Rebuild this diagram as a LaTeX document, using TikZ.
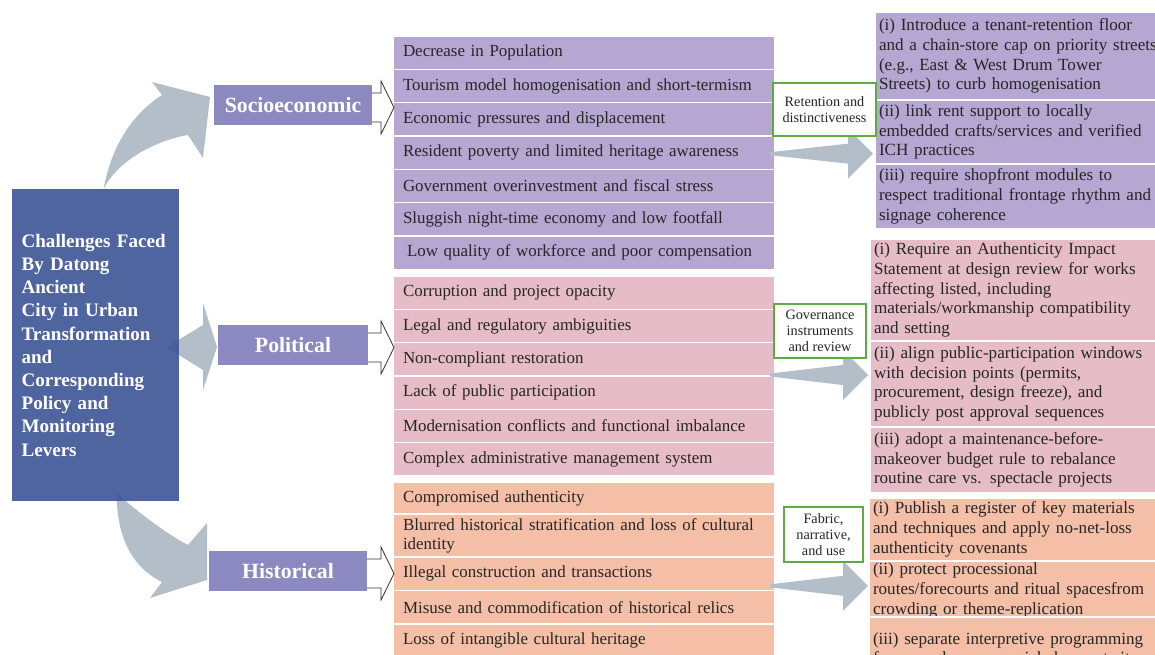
\documentclass[tikz,border=0pt]{standalone}
\usepackage{fontspec}
\setmainfont{Liberation Serif}
\usetikzlibrary{positioning}
\usetikzlibrary{calc}
\usetikzlibrary{backgrounds}

\definecolor{mainblue}{RGB}{60,84,150}
\definecolor{catblue}{RGB}{140,137,193}
\definecolor{sociofill}{RGB}{181,166,210}
\definecolor{politfill}{RGB}{230,188,201}
\definecolor{histfill}{RGB}{244,191,166}
\definecolor{flowgray}{RGB}{179,190,200}
\definecolor{labelgreen}{RGB}{92,172,64}

\newcommand\listfont{\fontsize{12.7}{14}\selectfont}
\newcommand\leverfont{\fontsize{12.8}{14.8}\selectfont}
\newcommand\tagfont{\fontsize{10.7}{12}\selectfont}

\newcommand\hollowarrow[2]{%
    \coordinate (ha) at ($(#1.east)+(0,2.5)$);
    \coordinate (hb) at (ha -| #2.west);
    \draw[hollow] ($(ha)+(0,-14.5)$) -- ($(hb)+(-12,-14.5)$) -- ($(hb)+(-12,-26.5)$)
        -- ($(hb)+(1,0)$) -- ($(hb)+(-12,26.5)$) -- ($(hb)+(-12,14.5)$) -- ($(ha)+(0,14.5)$);}
\newcommand\flowarrow[2]{%
    \fill[flowgray] ($(#1)+(0,-1.5)$) -- ($(#2)+(-25,-10)$) -- ($(#2)+(-25,-25)$) -- (#2)
        -- ($(#2)+(-25,25)$) -- ($(#2)+(-25,10)$) -- ($(#1)+(0,1.5)$) -- cycle;}

\tikzset{
    x=0.75pt, y=-0.75pt,
    node distance=0pt,
    challenge/.style={
        rectangle, outer sep=0pt,
        draw=white, line width=1.2pt,
        minimum width=286.5pt, minimum height=25pt,
        text width=271.5pt, inner xsep=7.5pt,
        align=left, font=\listfont, text=black!85
    },
    lever/.style={
        rectangle, outer sep=0pt,
        draw=white, line width=1.2pt,
        text width=220pt, inner xsep=3pt, inner ysep=1.5pt,
        align=left, font=\leverfont, text=black!85
    },
    category/.style={
        rectangle, outer sep=0pt,
        fill=catblue, minimum height=30pt,
        text=white, font=\fontsize{16.3}{18}\selectfont\bfseries
    },
    tag/.style={
        rectangle, outer sep=0pt, inner sep=1pt,
        draw=labelgreen, line width=1.5pt, fill=white,
        align=center, font=\tagfont, text=black!85
    },
    bigflow/.style={fill=flowgray},
    hollow/.style={draw=black!80, fill=white, line width=0.6pt}
}

\begin{document}
\begin{tikzpicture}
    \useasboundingbox (0,0) rectangle (1155,654);
    \clip (0,0) rectangle (1155,654);

    \node[rectangle, anchor=north west, fill=mainblue, fill opacity=0.9, text opacity=1,
        minimum width=123pt, minimum height=234pt, text width=111pt, inner xsep=7pt,
        align=left, text=white, font=\fontsize{14.3}{17.4}\selectfont\bfseries] (main) at (12,189)
        {Challenges Faced\\By Datong\\Ancient\\City in Urban\\Transformation\\and\\Corresponding\\Policy and\\Monitoring\\Levers};

    \node[category, minimum width=118.5pt] (socio) at (293,105) {Socioeconomic};
    \node[category, minimum width=112.5pt] (polit) at (293,345) {Political};
    \node[category, minimum width=118.5pt] (hist) at (288,571) {Historical};

    \node[challenge, fill=sociofill, anchor=north west] (s1) at (393,36) {Decrease in Population};
    \node[challenge, fill=sociofill, below=of s1] (s2) {Tourism model homogenisation and short-termism};
    \node[challenge, fill=sociofill, below=of s2] (s3) {Economic pressures and displacement};
    \node[challenge, fill=sociofill, below=of s3] (s4) {Resident poverty and limited heritage awareness};
    \node[challenge, fill=sociofill, below=of s4] (s5) {Government overinvestment and fiscal stress};
    \node[challenge, fill=sociofill, below=of s5] (s6) {Sluggish night-time economy and low footfall};
    \node[challenge, fill=sociofill, below=of s6] (s7) {\hspace*{3pt}Low quality of workforce and poor compensation};

    \node[challenge, fill=politfill, anchor=north west] (p1) at (393,276) {Corruption and project opacity};
    \node[challenge, fill=politfill, below=of p1] (p2) {Legal and regulatory ambiguities};
    \node[challenge, fill=politfill, below=of p2] (p3) {Non-compliant restoration};
    \node[challenge, fill=politfill, below=of p3] (p4) {Lack of public participation};
    \node[challenge, fill=politfill, below=of p4] (p5) {Modernisation conflicts and functional imbalance};
    \node[challenge, fill=politfill, below=of p5] (p6) {Complex administrative management system};

    \node[challenge, fill=histfill, anchor=north west, minimum height=24pt] (h1) at (393,482) {Compromised authenticity};
    \node[challenge, fill=histfill, below=of h1, minimum height=31.5pt] (h2) {Blurred historical stratification and loss of cultural\\identity};
    \node[challenge, fill=histfill, below=of h2] (h3) {Illegal construction and transactions};
    \node[challenge, fill=histfill, below=of h3] (h4) {Misuse and commodification of historical relics};
    \node[challenge, fill=histfill, below=of h4] (h5) {Loss of intangible cultural heritage};

    \hollowarrow{socio}{s1}
    \hollowarrow{polit}{p1}
    \hollowarrow{hist}{h1}

    \node[lever, fill=sociofill, anchor=north west, minimum height=66pt] (rs1) at (875,12)
        {(i) Introduce a tenant-retention floor\\and a chain-store cap on priority streets\\(e.g., East \& West Drum Tower\\Streets) to curb homogenisation};
    \node[lever, fill=sociofill, below=of rs1, minimum height=48pt] (rs2)
        {(ii) link rent support to locally\\embedded crafts/services and verified\\ICH practices};
    \node[lever, fill=sociofill, below=of rs2, minimum height=48.75pt] (rs3)
        {(iii) require shopfront modules to\\respect traditional frontage rhythm and\\signage coherence};

    \node[lever, fill=politfill, anchor=north west, minimum height=76.5pt] (rp1) at (870,239)
        {(i) Require an Authenticity Impact\\Statement at design review for works\\affecting listed, including\\materials/workmanship compatibility\\and setting};
    \node[lever, fill=politfill, below=of rp1, minimum height=64.5pt] (rp2)
        {(ii) align public-participation windows\\with decision points (permits,\\procurement, design freeze), and\\publicly post approval sequences};
    \node[lever, fill=politfill, below=of rp2, minimum height=49.5pt] (rp3)
        {(iii) adopt a maintenance-before-\\makeover budget rule to rebalance\\routine care vs. spectacle projects};

    \node[lever, fill=histfill, anchor=north west, minimum height=47.25pt] (rh1) at (869,498)
        {(i) Publish a register of key materials\\and techniques and apply no-net-loss\\authenticity covenants};
    \node[lever, fill=histfill, below=of rh1, minimum height=40pt] (rh2)
        {(ii) protect processional\\routes/forecourts and ritual spacesfrom\\crowding or theme-replication};
    \node[lever, fill=histfill, anchor=north west, minimum height=49.5pt] (rh3) at (869,617)
        {(iii) separate interpretive programming\\from purely commercial shows at sites};

    \coordinate (f1) at ($(s4.east)+(-5,1)$);
    \coordinate (g1) at ($(f1 -| rs2.west)+(-2,0)$);
    \coordinate (f2) at ($(p3.south east)+(-5,-1)$);
    \coordinate (g2) at ($(f2 -| rp2.west)+(-2,0)$);
    \coordinate (f3) at ($(h3.east)+(-5,12)$);
    \coordinate (g3) at ($(f3 -| rh2.west)+(-1,0)$);
    \flowarrow{f1}{g1}
    \flowarrow{f2}{g2}
    \flowarrow{f3}{g3}

    \node[tag, minimum width=77pt, minimum height=39.75pt] (tag1) at (824.5,109.5) {Retention and\\distinctiveness};
    \node[tag, minimum width=69pt, minimum height=40.5pt] (tag2) at (820,331) {Governance\\instruments\\and review};
    \node[tag, minimum width=59pt, minimum height=41.25pt] (tag3) at (823.5,534.5) {Fabric,\\narrative,\\and use};

    \begin{scope}[on background layer]
        \coordinate (a0) at ($(main.north)+(8,0)$);
        \coordinate (a1) at ($(socio.west)+(-4,-8)$);
        \fill[bigflow] (a0) .. controls ($(a0)+(8,-45)$) and ($(a1)+(-76,16)$) .. ($(a1)+(-48,-2)$)
            -- ($(a1)+(-58,-15)$) -- (a1) -- ($(a1)+(-7,61)$) -- ($(a1)+(-22,38)$)
            .. controls ($(a1)+(-52,43)$) and ($(a0)+(15,-30)$) .. (a0) -- cycle;
        \coordinate (b0) at ($(main.east)+(-13,2)$);
        \coordinate (b1) at ($(polit.west)+(-1,2)$);
        \fill[bigflow] (b0) -- ($(b1)+(-14,-22)$) -- ($(b1)+(-14,-44)$) -- (b1)
            -- ($(b1)+(-14,43)$) -- ($(b1)+(-14,23)$) -- cycle;
        \coordinate (c0) at ($(main.south)+(21,-9)$);
        \coordinate (c1) at ($(hist.west)+(-2,9)$);
        \fill[bigflow] (c0) .. controls ($(c0)+(0,45)$) and ($(c1)+(-75,-13)$) .. ($(c1)+(-45,2)$)
            -- ($(c1)+(-57,18)$) -- (c1) -- ($(c1)+(0,-57)$) -- ($(c1)+(-19,-35)$)
            .. controls ($(c1)+(-39,-45)$) and ($(c0)+(15,15)$) .. (c0) -- cycle;
    \end{scope}
\end{tikzpicture}
\end{document}
